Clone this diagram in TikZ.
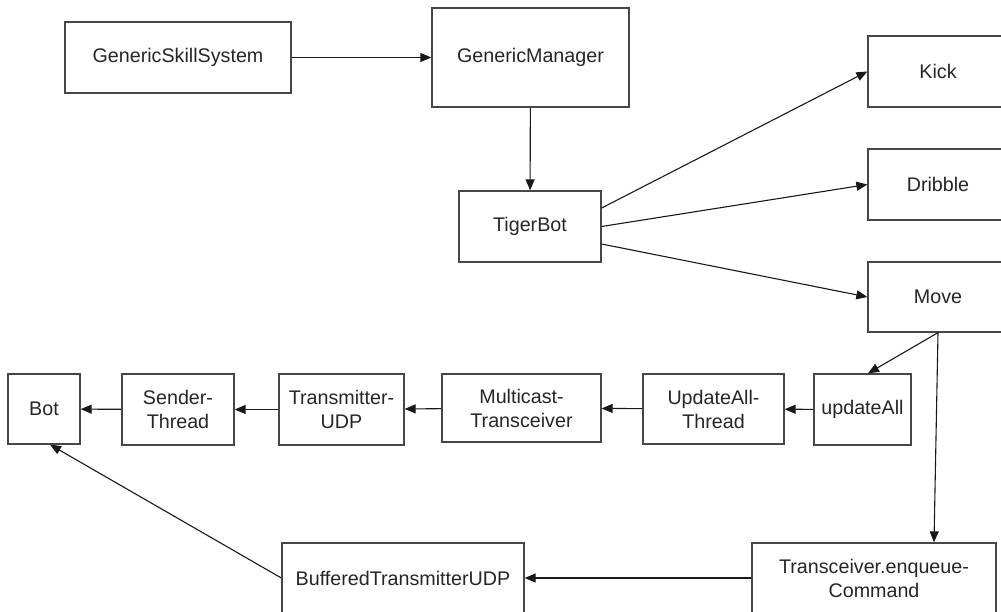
\documentclass[tikz,border=0pt]{standalone}
\usepackage{fontspec}
\setmainfont{Liberation Sans}
\usetikzlibrary{arrows.meta}

\begin{document}
\begin{tikzpicture}[x=1pt, y=-1pt,
	box/.style={draw=black!72, line width=1.3pt, fill=white, inner sep=2pt, align=center,
		font=\fontsize{19.7}{24}\selectfont, text=black!85},
	link/.style={draw=black!90, line width=1.1pt, -{Triangle[length=11pt, width=9pt]}}]
			
			\useasboundingbox (0,0) rectangle (1001,612);
			\clip (0,0) rectangle (1001,612);
			
			\node[box, minimum width=226pt, minimum height=71pt] (gss) at (178,57.5) {GenericSkillSystem};
			\node[box, minimum width=197pt, minimum height=99pt] (manager) at (530.5,57.5) {GenericManager};
			\node[box, minimum width=142pt, minimum height=71pt] (tigerbot) at (530,226.5) {TigerBot};
			
			\node[box, minimum width=140pt, minimum height=71pt] (kick) at (938,71.5) {Kick};
			\node[box, minimum width=140pt, minimum height=71pt] (dribble) at (938,184.5) {Dribble};
			\node[box, minimum width=140pt, minimum height=70pt] (move) at (938,297) {Move};
			
			\node[box, minimum width=97pt, minimum height=71pt] (updateall) at (862.5,409.5) {updateAll};
			\node[box, minimum width=141pt, minimum height=70pt] (updthread) at (713.5,409) {UpdateAll-\\Thread};
			\node[box, minimum width=159pt, minimum height=68pt] (multicast) at (521.5,408) {Multicast-\\Transceiver};
			\node[box, minimum width=125pt, minimum height=71pt] (transmitter) at (341.5,409.5) {Transmitter-\\UDP};
			\node[box, minimum width=112pt, minimum height=71pt] (sender) at (178,409.5) {Sender-\\Thread};
			\node[box, minimum width=72pt, minimum height=70pt] (bot) at (44,409) {Bot};
			
			\node[box, minimum width=244pt, minimum height=70pt] (enqueue) at (874,578) {Transceiver.enqueue-\\Command};
			\node[box, minimum width=242pt, minimum height=70pt] (buffered) at (403,578) {BufferedTransmitterUDP};
			
			\draw[link] (gss) -- (manager);
			\draw[link] (manager) -- (tigerbot);
			
			\draw[link] ([yshift=18.5pt]tigerbot.east) -- (kick.west);
			\draw[link] (tigerbot.east) -- (dribble.west);
			\draw[link] ([yshift=-17.5pt]tigerbot.east) -- (move.west);
			
			\draw[link] (move.south) -- ([xshift=5.5pt]updateall.north);
			\draw[link] (move.south) -- ([xshift=60pt]enqueue.north);
			
			\draw[link] (updateall) -- (updthread);
			\draw[link] (updthread) -- (multicast);
			\draw[link] (multicast) -- (transmitter);
			\draw[link] (transmitter) -- (sender);
			\draw[link] (sender) -- (bot);
			
			\draw[link] (enqueue) -- (buffered);
			\draw[link] (buffered.west) -- ([xshift=6pt]bot.south);
			
			\end{tikzpicture}
\end{document}
